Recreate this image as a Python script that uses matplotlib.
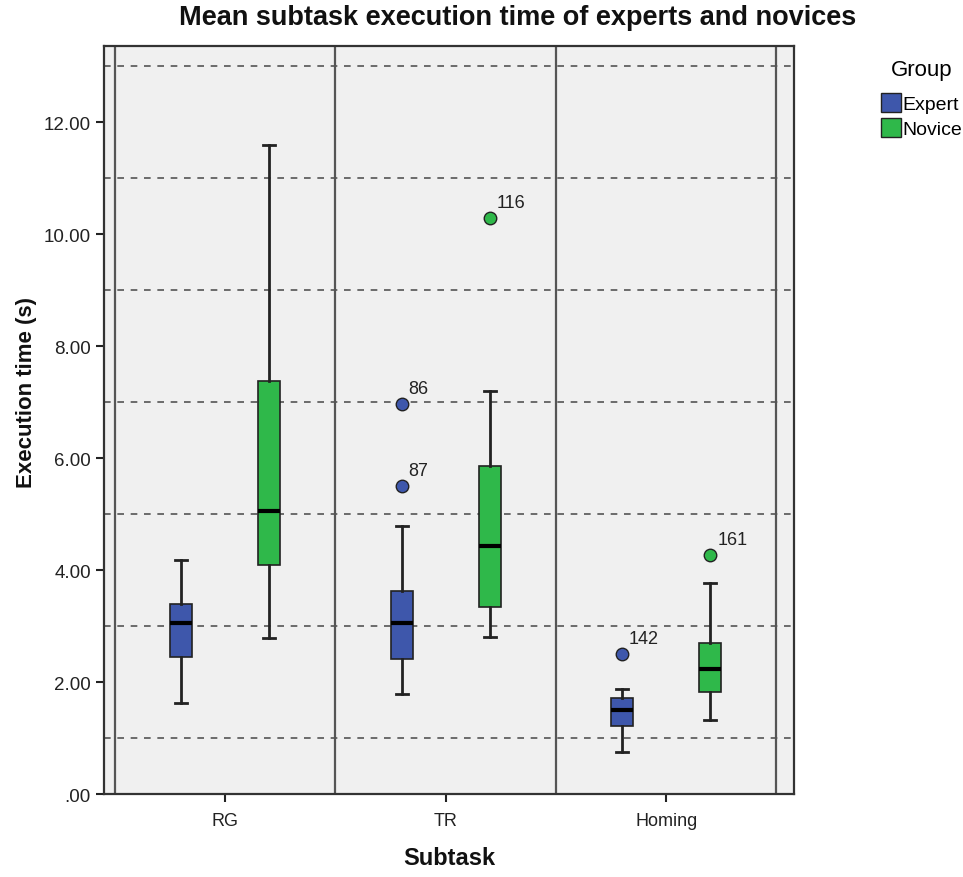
import matplotlib
matplotlib.use("Agg")
import matplotlib.pyplot as plt
from matplotlib.patches import Patch

plt.rcParams["font.family"] = ["Liberation Sans", "DejaVu Sans"]

subtasks = ["RG", "TR", "Homing"]
groups = ["Expert", "Novice"]
colors = {"Expert": "#3e57ab", "Novice": "#2fb84a"}

# five-number summaries: low whisker, Q1, median, Q3, high whisker
expert_stats = [
    [1.62, 2.45, 3.05, 3.39, 4.18],
    [1.79, 2.41, 3.05, 3.62, 4.79],
    [0.75, 1.21, 1.50, 1.71, 1.87],
]
novice_stats = [
    [2.79, 4.09, 5.05, 7.38, 11.59],
    [2.80, 3.34, 4.43, 5.86, 7.20],
    [1.32, 1.82, 2.23, 2.70, 3.77],
]
# outliers: (value, case id)
expert_outliers = [[], [(6.97, "86"), (5.50, "87")], [(2.50, "142")]]
novice_outliers = [[], [(10.28, "116")], [(4.27, "161")]]

fig = plt.figure(figsize=(9.63, 8.78), dpi=100)
ax = fig.add_axes([0.108, 0.0945, 0.7165, 0.852])
ax.set_facecolor("#f0f0f0")

offsets = {"Expert": -0.2, "Novice": 0.2}
all_stats = {"Expert": expert_stats, "Novice": novice_stats}
all_out = {"Expert": expert_outliers, "Novice": novice_outliers}

for g in groups:
    stats = []
    pos = []
    for i, s in enumerate(all_stats[g]):
        stats.append(dict(whislo=s[0], q1=s[1], med=s[2], q3=s[3], whishi=s[4],
                          fliers=[v for v, _ in all_out[g][i]]))
        pos.append(i + offsets[g])
    ax.bxp(stats, positions=pos, widths=0.1, patch_artist=True,
           boxprops=dict(facecolor=colors[g], edgecolor="#222222", linewidth=1.2),
           medianprops=dict(color="black", linewidth=3),
           whiskerprops=dict(color="#222222", linewidth=2),
           capprops=dict(color="#222222", linewidth=2),
           capwidths=0.055,
           flierprops=dict(marker="o", markerfacecolor=colors[g], markeredgecolor="#222222",
                           markersize=9, markeredgewidth=1),
           manage_ticks=False, zorder=3)
    for i, outs in enumerate(all_out[g]):
        for v, lab in outs:
            ax.annotate(lab, (i + offsets[g], v), xytext=(5, 5), textcoords="offset points",
                        ha="left", va="bottom", fontsize=13, color="#222222")

# dashed reference lines at odd values
for y in range(1, 14, 2):
    ax.axhline(y, color="#555555", linestyle=(0, (4, 4)), linewidth=1.2, zorder=1)

for x in [-0.5, 0.5, 1.5, 2.5]:
    ax.axvline(x, color="#555555", linewidth=1.6, zorder=2)

ax.set_xlim(-0.55, 2.58)
ax.set_ylim(0, 13.36)
ax.set_xticks(range(len(subtasks)))
ax.set_xticklabels(subtasks, fontsize=13)
yt = list(range(0, 13, 2))
ax.set_yticks(yt)
ax.set_yticklabels([".00"] + ["%.2f" % v for v in yt[1:]], fontsize=13.5)
ax.tick_params(axis="both", length=6, width=1.5, color="#222222", labelcolor="#222222")
ax.tick_params(axis="x", pad=7)
for sp in ax.spines.values():
    sp.set_color("#333333")
    sp.set_linewidth(1.6)

fig.text(0.537, 0.979, "Mean subtask execution time of experts and novices",
         ha="center", va="center", fontsize=19.5, fontweight="bold", color="#111111")
fig.text(0.027, 0.553, "Execution time (s)", rotation=90, ha="center", va="center",
         fontsize=16, fontweight="bold", color="#111111")
fig.text(0.467, 0.022, "Subtask", ha="center", va="center",
         fontsize=17, fontweight="bold", color="#111111")

handles = [Patch(facecolor=colors[g], edgecolor="#222222", label=g) for g in groups]
leg = fig.legend(handles=handles, title="Group", loc="upper left",
                 bbox_to_anchor=(0.907, 0.941), frameon=False, fontsize=14,
                 title_fontsize=16, handlelength=1.0, handleheight=1.1,
                 handletextpad=0.1, labelspacing=0.25, borderaxespad=0)
leg._legend_box.sep = 10

fig.savefig("out.png", dpi=100, facecolor="white")
